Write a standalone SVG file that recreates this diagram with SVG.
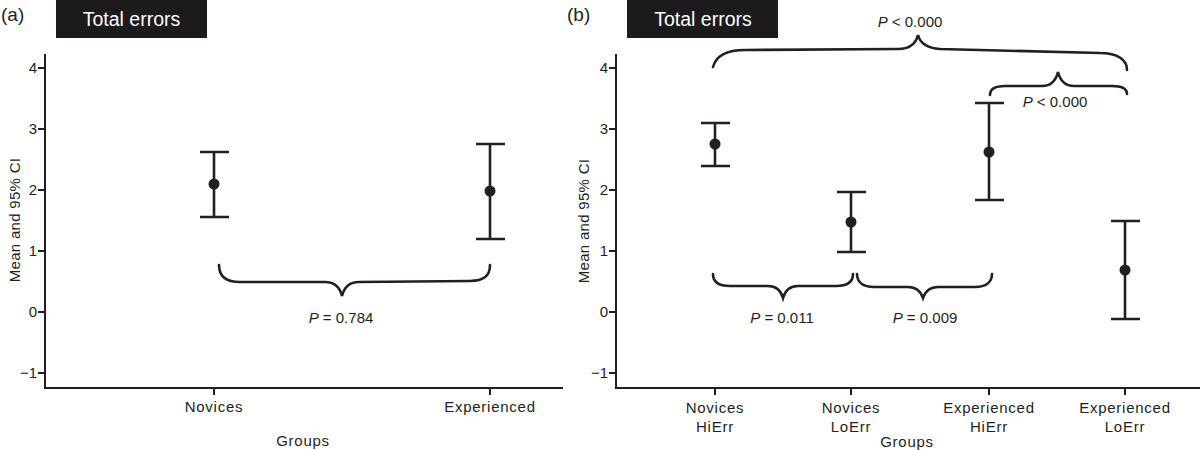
<svg xmlns="http://www.w3.org/2000/svg" width="1200" height="450" viewBox="0 0 1200 450">
<style>
text{font-family:"Liberation Sans",Arial,sans-serif;fill:#231f20}
.pl{font-size:19px}
.tt{font-size:19.5px;fill:#fff;text-anchor:middle}
.tk{font-size:15px;text-anchor:end}
.xl{font-size:15px;text-anchor:middle;letter-spacing:0.75px}
.yl{font-size:15px;text-anchor:middle;letter-spacing:0.3px}
.pv{font-size:15px;text-anchor:middle}
.ax{stroke:#231f20;stroke-width:2;fill:none}
.eb{stroke:#231f20;stroke-width:2.6;fill:none}
.br{stroke:#231f20;stroke-width:2.6;fill:none;stroke-linecap:round}
.dot{fill:#231f20}
</style>
<rect width="1200" height="450" fill="#fff"/>

<!-- Panel (a) -->
<g id="panel-a-label"><text class="pl" x="1" y="21">(a)</text></g>
<g id="panel-a-title">
<rect x="56" y="0" width="151" height="38" fill="#1c1a1b"/>
<text class="tt" x="131.5" y="26">Total errors</text>
</g>
<g id="axes-a">
<path class="ax" d="M45,54 V388 H563"/>
<path class="ax" d="M38,68 H45 M38,129 H45 M38,190 H45 M38,251 H45 M38,312 H45 M38,373 H45 M214,388 V395 M490,388 V395"/>
<text class="tk" x="37" y="73">4</text>
<text class="tk" x="37" y="134">3</text>
<text class="tk" x="37" y="195">2</text>
<text class="tk" x="37" y="256">1</text>
<text class="tk" x="37" y="317">0</text>
<text class="tk" x="37" y="378">−1</text>
<text class="yl" transform="translate(20,220) rotate(-90)">Mean and 95% CI</text>
<text class="xl" x="214" y="412">Novices</text>
<text class="xl" x="490" y="412">Experienced</text>
<text class="xl" x="303" y="446">Groups</text>
</g>
<g id="bar-a-novices">
<path class="eb" d="M214,152 V217 M200,152 H229 M200,217 H229"/>
<circle class="dot" cx="214" cy="184" r="5.5"/>
</g>
<g id="bar-a-experienced">
<path class="eb" d="M490,144 V239 M476,144 H505 M476,239 H505"/>
<circle class="dot" cx="490" cy="191" r="5.5"/>
</g>
<g id="connectors-a">
<path class="br" d="M219,265 C219,276 226,282 240,282 L325,282 C335,282 340,288 342,296 C344,288 349,282 359,282 L470,281 C484,281 490,276 490,265"/>
<text class="pv" x="341" y="323"><tspan font-style="italic">P</tspan> = 0.784</text>
</g>

<!-- Panel (b) -->
<g id="panel-b-label"><text class="pl" x="567" y="21">(b)</text></g>
<g id="panel-b-title">
<rect x="627" y="0" width="151" height="38" fill="#1c1a1b"/>
<text class="tt" x="703" y="26">Total errors</text>
</g>
<g id="axes-b">
<path class="ax" d="M616,54 V388 H1200"/>
<path class="ax" d="M609,68 H616 M609,129 H616 M609,190 H616 M609,251 H616 M609,312 H616 M609,373 H616 M715,388 V395 M851,388 V395 M989,388 V395 M1125,388 V395"/>
<text class="tk" x="608" y="73">4</text>
<text class="tk" x="608" y="134">3</text>
<text class="tk" x="608" y="195">2</text>
<text class="tk" x="608" y="256">1</text>
<text class="tk" x="608" y="317">0</text>
<text class="tk" x="608" y="378">−1</text>
<text class="yl" transform="translate(589,221) rotate(-90)">Mean and 95% CI</text>
<text class="xl" x="715" y="413">Novices</text>
<text class="xl" x="715" y="432">HiErr</text>
<text class="xl" x="851" y="413">Novices</text>
<text class="xl" x="851" y="432">LoErr</text>
<text class="xl" x="989" y="413">Experienced</text>
<text class="xl" x="989" y="432">HiErr</text>
<text class="xl" x="1125" y="413">Experienced</text>
<text class="xl" x="1125" y="432">LoErr</text>
<text class="xl" x="907" y="447">Groups</text>
</g>
<g id="bar-b-novices-hierr">
<path class="eb" d="M715,123 V166 M701,123 H730 M701,166 H730"/>
<circle class="dot" cx="715" cy="144" r="5.5"/>
</g>
<g id="bar-b-novices-loerr">
<path class="eb" d="M851,192 V252 M837,192 H866 M837,252 H866"/>
<circle class="dot" cx="851" cy="222" r="5.5"/>
</g>
<g id="bar-b-experienced-hierr">
<path class="eb" d="M989,103 V200 M975,103 H1004 M975,200 H1004"/>
<circle class="dot" cx="989" cy="152" r="5.5"/>
</g>
<g id="bar-b-experienced-loerr">
<path class="eb" d="M1125,221 V319 M1111,221 H1140 M1111,319 H1140"/>
<circle class="dot" cx="1125" cy="270" r="5.5"/>
</g>
<g id="connectors-b">
<path class="br" d="M713,67 C716,56 726,50 745,50 L898,49 C910,49 916,43 918,35 C920,43 926,48 940,49 L1100,53 C1118,53 1127,60 1127,70"/>
<text class="pv" x="910" y="27"><tspan font-style="italic">P</tspan> &lt; 0.000</text>
<path class="br" d="M990,95 C990,89 995,86 1005,86 L1042,86 C1051,86 1056,80 1058,72 C1060,80 1065,86 1074,86 L1112,86 C1122,86 1127,89 1127,94"/>
<text class="pv" x="1055" y="107"><tspan font-style="italic">P</tspan> &lt; 0.000</text>
<path class="br" d="M713,274 C713,282 719,286 730,286 L768,286 C777,286 781,291 783,298 C785,291 789,286 798,286 L836,286 C847,286 853,282 853,274"/>
<text class="pv" x="782" y="323"><tspan font-style="italic">P</tspan> = 0.011</text>
<path class="br" d="M857,274 C857,282 863,287 874,287 L908,287 C917,287 921,292 923,298 C925,292 929,287 938,287 L975,287 C986,287 992,282 992,274"/>
<text class="pv" x="925" y="323"><tspan font-style="italic">P</tspan> = 0.009</text>
</g>
</svg>
